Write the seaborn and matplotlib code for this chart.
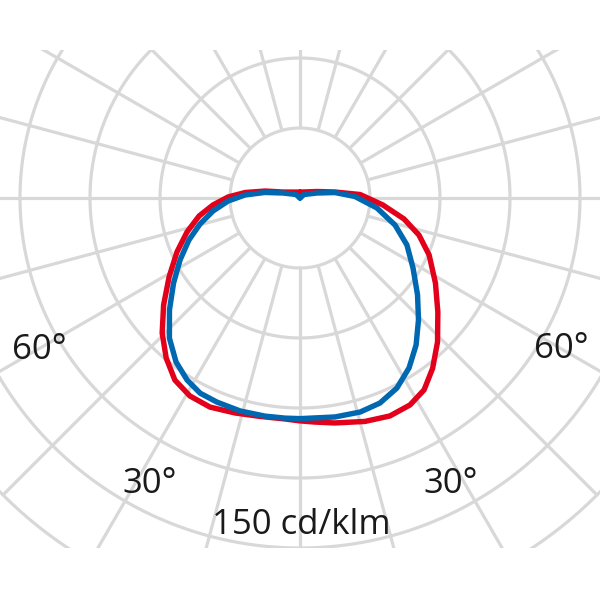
import numpy as np
import pandas as pd
import matplotlib
matplotlib.use("Agg")
import matplotlib.pyplot as plt
import seaborn as sns
from matplotlib.patches import Rectangle

sns.set_style("white")
plt.rcParams['font.family'] = ['Open Sans', 'DejaVu Sans']

# Polar luminous intensity data (theta in degrees from nadir, counter-clockwise; intensity in cd/klm)
red_theta = [180, 110.9, 99.7, 93.3, 85.2, 78.6, 72.7, 66.2, 57.9, 50.4, 43.7, 37.9,
             32.9, 28.0, 22.4, 16.2, 8.8, 3.8, 0.0,
             356.1, 349.6, 343.2, 336.7, 330.9, 325.5, 320.1, 314.4, 308.1, 301.1,
             293.7, 286.7, 280.1, 274.6, 269.2, 264.3, 258.7, 250.6, 180]
red_int = [2.1, 6.5, 12.7, 21.5, 29.7, 37.9, 44.5, 50.4, 57.1, 63.9, 71.1, 77.1,
           81.6, 83.7, 84.2, 83.1, 81.3, 80.2, 79.6,
           79.1, 79.3, 80.2, 81.3, 80.9, 78.9, 74.5, 68.9, 61.9, 54.6,
           48.0, 42.1, 36.6, 31.2, 25.7, 19.7, 12.7, 6.4, 2.1]

blue_theta = [180, 131.2, 106.4, 98.9, 91.6, 82.6, 74.1, 66.3, 58.2, 50.5, 44.2, 38.3,
              32.7, 27.0, 21.3, 15.7, 9.1, 0.0,
              356.1, 350.9, 344.3, 337.9, 332.9, 328.2, 322.9, 317.0, 310.6, 303.9,
              297.3, 290.7, 284.6, 278.5, 272.4, 266.9, 261.0, 253.6, 228.8, 180]
blue_int = [0.0, 1.9, 6.3, 12.6, 19.6, 27.7, 35.3, 41.7, 47.5, 54.4, 60.7, 66.9,
            72.1, 76.2, 78.6, 79.4, 79.2, 78.8,
            78.8, 78.9, 79.0, 78.7, 78.3, 76.5, 73.4, 68.4, 61.4, 54.4,
            48.2, 42.4, 36.9, 31.4, 25.7, 19.7, 12.7, 6.3, 1.9, 0.0]

ring_values = [25, 50, 75, 100, 125, 150]
spoke_angles = list(range(0, 360, 15))
angle_labels = ["60°", "30°", "30°", "60°"]
scale_label = "150 cd/klm"

fig = plt.figure(figsize=(6, 6), dpi=100)
# centre at (300,198) px, outer ring radius 420 px
cx, cy, R = 0.5, 1 - 198 / 600, 420 / 600
ax = fig.add_axes([cx - R, cy - R, 2 * R, 2 * R], projection='polar')
ax.set_theta_zero_location('S')
ax.set_theta_direction(1)
ax.set_ylim(0, 150)
ax.grid(False)
ax.set_xticks([])
ax.set_yticks([])
ax.spines['polar'].set_visible(False)
ax.patch.set_visible(False)

clip = Rectangle((0, 1 - 548 / 600), 1, (548 - 50) / 600, transform=fig.transFigure)

grid_color = '#d8d8d8'
grid_lw = 2.3
tt = np.linspace(0, 2 * np.pi, 721)
for rv in ring_values:
    ln, = ax.plot(tt, np.full_like(tt, rv), color=grid_color, lw=grid_lw, zorder=1)
    ln.set_clip_path(clip)
for a in spoke_angles:
    ln, = ax.plot([np.deg2rad(a)] * 2, [ring_values[0], ring_values[-1]],
                  color=grid_color, lw=grid_lw, zorder=1, solid_capstyle='butt')
    ln.set_clip_path(clip)

red_df = pd.DataFrame({'theta': np.deg2rad(red_theta), 'I': red_int})
blue_df = pd.DataFrame({'theta': np.deg2rad(blue_theta), 'I': blue_int})
sns.lineplot(data=red_df, x='theta', y='I', sort=False, ax=ax, color='#e2001a',
             lw=3.9, zorder=3, estimator=None, solid_joinstyle='round')
sns.lineplot(data=blue_df, x='theta', y='I', sort=False, ax=ax, color='#0067b1',
             lw=3.9, zorder=4, estimator=None, solid_joinstyle='round')
ax.set_xlabel('')
ax.set_ylabel('')
ax.set_ylim(0, 150)

fs = 25
pos = [(39, 350), (150, 484), (451, 484), (561, 349)]
for lab, (px, py) in zip(angle_labels, pos):
    fig.text(px / 600, 1 - py / 600, lab, ha='center', va='center', fontsize=fs, color='#1a1a1a')
fig.text(301 / 600, 1 - 525 / 600, scale_label, ha='center', va='center', fontsize=fs, color='#1a1a1a')

fig.savefig('out.png', dpi=100, facecolor='white')
